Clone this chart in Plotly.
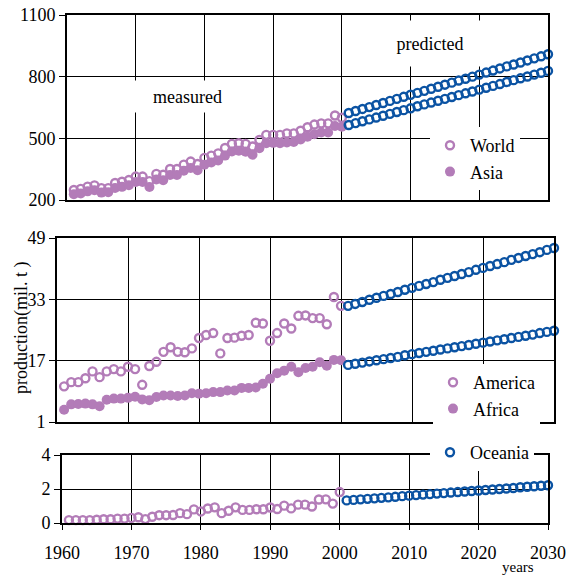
import plotly.graph_objects as go

# ---------------- data ----------------
years_meas = list(range(1961, 2001))
years_pred = list(range(2001, 2031))

world_meas = [249, 254, 265, 271, 258, 258, 283, 289, 297, 314, 314, 292, 327, 323, 351, 351,
              372, 387, 375, 405, 416, 427, 453, 473, 476, 473, 460, 492, 517, 517, 517, 524,
              524, 537, 554, 567, 573, 573, 611, 600]
asia_meas = [228, 232, 242, 248, 236, 238, 258, 264, 272, 288, 288, 263, 300, 296, 322, 322,
             342, 356, 345, 372, 383, 392, 416, 436, 440, 435, 420, 452, 476, 478, 476, 480,
             482, 494, 508, 520, 528, 528, 560, 556]
world_pred = [623, 633, 643, 652, 662, 672, 682, 692, 702, 712, 721, 731, 741, 751, 761,
              771, 781, 790, 800, 810, 820, 830, 840, 850, 859, 869, 879, 889, 899, 909]
asia_pred = [565, 574, 583, 592, 601, 610, 619, 628, 637, 646, 656, 665, 674, 683, 692,
             701, 710, 719, 728, 737, 746, 755, 764, 774, 783, 792, 801, 810, 819, 828]

america_meas = [10.3, 11.4, 11.4, 12.4, 14.2, 12.7, 14.2, 14.8, 14.2, 15.4, 14.8, 10.7, 15.6,
                16.7, 19.3, 20.5, 19.3, 19.2, 20.2, 22.9, 23.7, 24.2, 18.9, 22.9, 23.0, 23.5,
                23.7, 26.9, 26.7, 22.2, 24.2, 26.7, 25.4, 28.7, 28.8, 28.1, 28.1, 26.5, 33.6, 31.3]
africa_meas = [4.2, 5.6, 5.7, 5.8, 5.6, 5.1, 6.8, 7.1, 7.1, 7.3, 7.6, 6.9, 6.7, 7.5, 7.9, 7.9,
               7.8, 7.9, 8.5, 8.4, 8.5, 8.8, 8.8, 9.2, 9.2, 9.9, 9.9, 10.0, 11.0, 12.3, 13.7,
               14.4, 15.4, 14.0, 15.1, 15.4, 16.6, 15.7, 17.2, 17.1]
america_pred = [31.3, 31.8, 32.3, 32.9, 33.4, 33.9, 34.4, 34.9, 35.5, 36.0, 36.5, 37.0, 37.5,
                38.1, 38.6, 39.1, 39.6, 40.1, 40.7, 41.2, 41.7, 42.2, 42.7, 43.3, 43.8, 44.3,
                44.8, 45.3, 45.9, 46.4]
africa_pred = [15.9, 16.2, 16.5, 16.8, 17.1, 17.4, 17.7, 18.0, 18.4, 18.7, 19.0, 19.3, 19.6,
               19.9, 20.2, 20.5, 20.8, 21.1, 21.4, 21.7, 22.0, 22.3, 22.6, 22.9, 23.2, 23.5,
               23.8, 24.2, 24.5, 24.8]

oceania_meas = [0.17, 0.17, 0.17, 0.17, 0.19, 0.22, 0.22, 0.26, 0.26, 0.30, 0.34, 0.23, 0.37,
                0.46, 0.46, 0.47, 0.58, 0.52, 0.80, 0.68, 0.85, 0.92, 0.58, 0.72, 0.92, 0.77,
                0.77, 0.81, 0.81, 0.91, 0.82, 1.02, 0.86, 1.08, 1.08, 0.97, 1.38, 1.39, 1.14, 1.82]
oceania_pred = [1.33, 1.36, 1.39, 1.42, 1.45, 1.48, 1.51, 1.54, 1.58, 1.61, 1.64, 1.67, 1.70,
                1.73, 1.76, 1.79, 1.82, 1.85, 1.88, 1.91, 1.94, 1.97, 2.00, 2.03, 2.06, 2.10,
                2.13, 2.16, 2.19, 2.22]

x_ticks = [1960, 1970, 1980, 1990, 2000, 2010, 2020, 2030]
y1_ticks = [200, 500, 800, 1100]
y2_ticks = [1, 17, 33, 49]
y3_ticks = [0, 2, 4]

# ---------------- style ----------------
W, H = 567, 575
PURPLE = "#B37CB8"
BLUE = "#0B53A3"
FONT = "Liberation Serif"

def px(x):
    return x / W

def py(y):
    return 1 - y / H

open_p = dict(symbol="circle-open", size=8, color=PURPLE, line=dict(width=2.4, color=PURPLE))
fill_p = dict(symbol="circle", size=10, color=PURPLE)
open_b = dict(symbol="circle-open", size=8, color=BLUE, line=dict(width=2.4, color=BLUE))

fig = go.Figure()

def add(x, y, marker, xa, ya, name=None, legend=None, show=False):
    fig.add_trace(go.Scatter(x=x, y=y, mode="markers", marker=marker, xaxis=xa, yaxis=ya,
                             name=name, legend=legend, showlegend=show, cliponaxis=False,
                             hoverinfo="skip"))

# top panel
add(years_meas, world_meas, open_p, "x", "y", "World", "legend", True)
add(years_meas, asia_meas, fill_p, "x", "y", "Asia", "legend", True)
add(years_pred, world_pred, open_b, "x", "y")
add(years_pred, asia_pred, open_b, "x", "y")
# middle panel
add(years_meas, america_meas, open_p, "x2", "y2", "America", "legend2", True)
add(years_meas, africa_meas, fill_p, "x2", "y2", "Africa", "legend2", True)
add(years_pred, america_pred, open_b, "x2", "y2")
add(years_pred, africa_pred, open_b, "x2", "y2")
# bottom panel
add(years_meas, oceania_meas, open_p, "x3", "y3")
add(years_pred, oceania_pred, open_b, "x3", "y3", "Oceania", "legend3", True)

tickfont = dict(family=FONT, size=18, color="black")

def xaxis(dom, anchor, labels):
    return dict(domain=dom, anchor=anchor, range=[1960, 2030], tickvals=x_ticks,
                showticklabels=labels, ticks="outside" if labels else "", ticklen=5,
                tickwidth=1, tickcolor="black", showgrid=True, gridcolor="black", gridwidth=1,
                showline=True, linecolor="black", linewidth=2, mirror=True, zeroline=False,
                tickfont=tickfont, ticklabelstandoff=7, automargin=False)

def yaxis(dom, anchor, rng, ticks):
    return dict(domain=dom, anchor=anchor, range=rng, tickvals=ticks, ticks="outside",
                ticklen=6, tickwidth=1, tickcolor="black", showgrid=True, gridcolor="black",
                gridwidth=1, showline=True, linecolor="black", linewidth=2, mirror=True,
                zeroline=False, tickfont=tickfont, automargin=False)

legfont = dict(family=FONT, size=18, color="black")

fig.update_layout(
    template="none",
    width=W, height=H, margin=dict(l=0, r=0, t=0, b=0, pad=0),
    paper_bgcolor="white", plot_bgcolor="white",
    font=dict(family=FONT, size=18, color="black"),
    xaxis=xaxis([px(67), px(548)], "y", False),
    yaxis=yaxis([py(200), py(15)], "x", [200, 1100], y1_ticks),
    xaxis2=xaxis([px(57), px(554)], "y2", False),
    yaxis2=yaxis([py(422), py(238)], "x2", [1, 49], y2_ticks),
    xaxis3=xaxis([px(62), px(548)], "y3", True),
    yaxis3=yaxis([py(523), py(455)], "x3", [0, 4], y3_ticks),
    legend=dict(x=px(430), y=py(127), xanchor="left", yanchor="top", bgcolor="white",
                font=legfont, itemwidth=30, tracegroupgap=0),
    legend2=dict(x=px(433), y=py(364), xanchor="left", yanchor="top", bgcolor="white",
                 font=legfont, itemwidth=30),
    legend3=dict(x=px(430), y=py(434), xanchor="left", yanchor="top", bgcolor="white",
                 font=legfont, itemwidth=30),
    annotations=[
        dict(text="measured", x=px(187), y=py(97), xref="paper", yref="paper",
             xanchor="center", yanchor="middle",
             showarrow=False, bgcolor="white", width=115, height=31, borderpad=0,
             font=dict(family=FONT, size=18, color="black")),
        dict(text="predicted", x=px(430), y=py(43), xref="paper", yref="paper",
             xanchor="center", yanchor="middle",
             showarrow=False, bgcolor="white", width=120, height=45, borderpad=0,
             font=dict(family=FONT, size=18, color="black")),
        dict(text="production(mil. t )", x=px(21), y=py(328), xref="paper", yref="paper",
             xanchor="center", yanchor="middle",
             showarrow=False, textangle=-90,
             font=dict(family=FONT, size=18, color="black")),
        dict(text="years", x=px(518), y=py(567), xref="paper", yref="paper",
             xanchor="center", yanchor="middle",
             showarrow=False, font=dict(family=FONT, size=15, color="black")),
    ],
)

fig.write_html("out.html")
